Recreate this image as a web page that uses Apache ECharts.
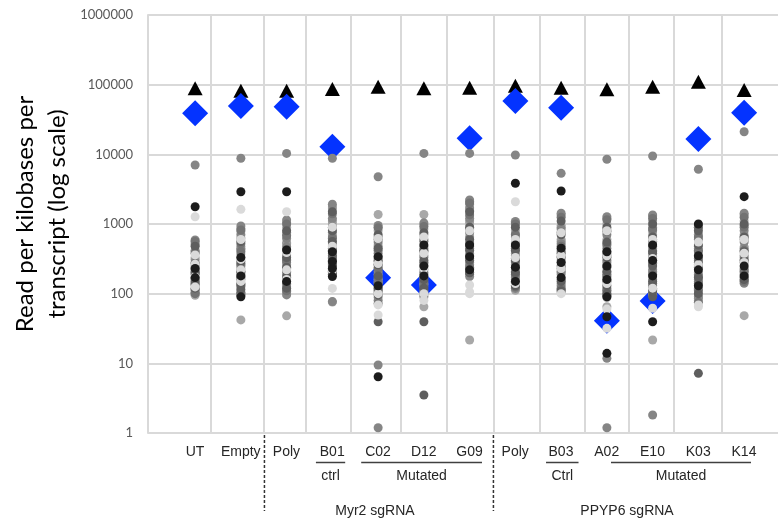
<!DOCTYPE html>
<html><head><meta charset="utf-8">
<script src="https://cdn.jsdelivr.net/npm/echarts@6/dist/echarts.min.js"></script>
<style>html,body{margin:0;padding:0;background:#fff}#c{width:779px;height:522px}</style>
</head><body><div id="c"></div>
<script>
const categories = ['UT','Empty','Poly','B01','C02','D12','G09','Poly','B03','A02','E10','K03','K14'];
const yTicks = [1,10,100,1000,10000,100000,1000000];
const yTitle = 'Read per kilobases per\ntranscript (log scale)';
const triangleValues = [88700,81900,82000,86600,93600,88700,90500,96600,90500,85600,93600,110000,83800];
const diamondValues  = [38800,49400,48300,12850,169,133,17000,58200,46700,40.9,78.5,16600,39600];

const dotsBlack = [[0,[1770,230,170]],[1,[2900,90,330,180]],[2,[2900,424,150]],[3,[176,400,230,290]],[4,[340,6.43,130]],[5,[500,250,180]],[6,[340,500,220]],[7,[3840,500,240,150]],[8,[2980,450,280,170]],[9,[90,46.7,13.9,400,250,160]],[10,[39.6,500,300,180]],[11,[1000,350,220,130]],[12,[2470,250,180]]];
const dotsDark = [[0,[480,200,150,120]],[1,[560,290,210,140,115]],[2,[800,330,240,180,120]],[3,[1500,800,560,350,250,200]],[4,[700,450,260,180,110,39.6,96]],[5,[750,420,300,160,120,39.6,3.51]],[6,[1500,900,600,420,300,200]],[7,[900,420,300,200,130]],[8,[1100,700,380,250,150,110]],[9,[900,550,330,210,130,100]],[10,[90,1000,650,400,250,150,110]],[11,[800,500,280,170,100,7.19]],[12,[1000,650,400,300,160]]];
const dotsMidDark = [[0,[560,380,270,220,165,135,115,100]],[1,[820,520,400,270,200,170,130,105,95]],[2,[1000,680,430,300,230,170,140,110]],[3,[1400,900,620,420,300,260,210,185]],[4,[880,600,420,300,230,170,140,118,72]],[5,[920,560,400,280,200,150,128,110]],[6,[2000,1350,850,520,350,240,200]],[7,[1000,700,450,320,240,190,145,125]],[8,[1250,760,480,340,230,160,120]],[9,[1150,780,500,350,240,180,150,110,96]],[10,[1200,850,560,380,270,190,140,120,100]],[11,[900,650,420,320,240,180,140,110,75]],[12,[1250,900,600,420,280,210,170,150]]];
const dotsMid = [[0,[7030,590,400,280,190,140,105]],[1,[8770,935,700,430,250,160,100]],[2,[10300,1140,620,470,280,200,96]],[3,[8770,1920,1200,650,450,320,190,77]],[4,[4770,950,550,380,290,210,150,80,9.46,1.19]],[5,[10300,1040,600,350,220,140,90]],[6,[10300,2210,1700,1200,750,450,260,176]],[7,[9800,1085,650,480,350,260,180,119]],[8,[5340,1430,850,520,330,210,130]],[9,[8490,1270,700,450,300,190,120,11.8,1.19]],[10,[9460,1350,800,480,340,220,130,1.81]],[11,[6100,900,600,400,250,150,90]],[12,[21100,1430,800,550,350,220,141]]];
const dotsMidLight = [[0,[500,420,310,240,200,170,140,100]],[1,[860,630,450,330,260,180,135,98]],[2,[1050,760,520,390,310,210,150,125,102]],[3,[1750,1100,760,540,400,330,280,220]],[4,[900,650,470,340,260,190,145,125,105]],[5,[980,700,450,330,250,170,135,96]],[6,[2100,1550,1100,650,480,320,230,190]],[7,[1050,720,520,380,290,210,170,130]],[8,[1350,900,560,400,280,200,140,115]],[9,[1200,820,520,400,280,200,155,110,95]],[10,[1300,900,600,420,300,210,160,115,98]],[11,[950,700,480,340,260,200,160,115,85]],[12,[1350,950,650,450,310,230,190,155]]];
const dotsLight = [[0,[520,330,250,210,160,130,110,95]],[1,[780,480,370,230,190,125,42]],[2,[900,720,540,360,260,135,108,48]],[3,[1650,1000,700,500,380,270,76]],[4,[1370,800,500,320,240,160,120,88]],[5,[1370,850,480,270,190,105,65]],[6,[1900,1000,550,380,280,21.6]],[7,[800,550,400,280,220,160,112]],[8,[950,600,420,300,190,106]],[9,[1000,600,380,260,170,88,65]],[10,[1100,700,450,280,200,95,21.6]],[11,[700,450,300,190,120,80]],[12,[1100,700,470,330,200,48.3]]];
const dotsPale = [[0,[1270,360,265,175,125]],[1,[1625,600,310,220,150]],[2,[1500,390,220,160]],[3,[900,480,215,119]],[4,[620,270,100,69,49.4]],[5,[650,380,230,100,80]],[6,[800,133,106,100]],[7,[2090,600,330,140]],[8,[750,350,230,100]],[9,[800,350,140,60,31.8]],[10,[600,320,120,61.8]],[11,[550,260,68.8,65]],[12,[600,380,280]]];

// vertical gridlines (category index units) and annotations
const vGridAt = [0.343,1.515,2.42,3.40,4.496,5.50,6.52,7.53,8.51,9.47,10.47,11.51];
const bracketRanges = [[2.64,3.28],[3.63,6.27],[7.67,8.38],[9.09,12.15]];
const bracketLabels = ['ctrl','Mutated','Ctrl','Mutated'];
const sectionLabels = ['Myr2 sgRNA','PPYP6 sgRNA'];
const sectionCenters = [3.93,9.44];
const dividerAt = [1.515,6.52];

const X_MIN = -1.03, X_MAX = 12.74;
function flat(groups){const o=[];groups.forEach(g=>g[1].forEach(v=>o.push([g[0],v])));return o;}

const chart = echarts.init(document.getElementById('c'));
const gridColor = '#d9d9d9';
const dotSeries = (name, arr, color) => ({
  name, type:'scatter', xAxisIndex:0, yAxisIndex:0, data: flat(arr),
  symbol:'circle', symbolSize:9, itemStyle:{color, opacity:1}, z:5, silent:true
});
chart.setOption({
  animation:false,
  grid:[
    {left:148, right:1, top:15, bottom:89},
    {left:172.1, width:594.75, top:15, bottom:89}
  ],
  xAxis:[
    {type:'value', gridIndex:0, min:X_MIN, max:X_MAX, show:false, splitLine:{show:false}},
    {type:'category', gridIndex:1, data:categories, boundaryGap:true,
     axisLine:{show:false}, axisTick:{show:false}, splitLine:{show:false},
     axisLabel:{interval:0, margin:12, fontSize:14, color:'#262626', fontFamily:'Liberation Sans'}}
  ],
  yAxis:[
    {type:'log', logBase:10, gridIndex:0, min:1, max:1000000,
     axisLine:{show:true, onZero:false, lineStyle:{color:gridColor, width:2}}, axisTick:{show:false},
     splitLine:{show:true, lineStyle:{color:gridColor, width:2}},
     axisLabel:{margin:15, fontSize:13, color:'#595959', fontFamily:'Lato', formatter:v=>String(Math.round(v))}},
    {type:'log', gridIndex:1, min:1, max:1000000, show:false, splitLine:{show:false}}
  ],
  series:[
    {type:'scatter', xAxisIndex:0, yAxisIndex:0, data:[], z:1, silent:true,
     markLine:{silent:true, symbol:'none', label:{show:false}, animation:false,
       lineStyle:{color:gridColor, width:2, type:'solid'},
       data: vGridAt.map(v=>({xAxis:v}))}},
    {type:'scatter', xAxisIndex:0, yAxisIndex:0, symbol:'triangle', symbolSize:[15,14],
     itemStyle:{color:'#000', opacity:1}, z:3, silent:true,
     data: triangleValues.map((v,i)=>[i,v])},
    {type:'scatter', xAxisIndex:0, yAxisIndex:0, symbol:'diamond', symbolSize:[26,26],
     itemStyle:{color:'#0433ff', opacity:1}, z:4, silent:true,
     data: diamondValues.map((v,i)=>[i,v])},
    dotSeries('light', dotsLight, '#a8a8a8'),
    dotSeries('midLight', dotsMidLight, '#999999'),
    dotSeries('mid', dotsMid, '#858585'),
    dotSeries('midDark', dotsMidDark, '#737373'),
    dotSeries('dark', dotsDark, '#5e5e5e'),
    dotSeries('pale', dotsPale, '#dadada'),
    dotSeries('black', dotsBlack, '#1c1c1c')
  ]
});

const px = v => chart.convertToPixel({xAxisIndex:0}, v);
const g = [];
const txt = {fontSize:14, fontFamily:'Liberation Sans', fill:'#262626', textAlign:'center', textVerticalAlign:'middle'};
bracketRanges.forEach((r,i)=>{
  const a = px(r[0]), b = px(r[1]);
  g.push({type:'line', shape:{x1:a,y1:462.5,x2:b,y2:462.5}, style:{stroke:'#404040', lineWidth:1.5}});
  g.push({type:'text', x:(a+b)/2, y:476.5, style:Object.assign({text:bracketLabels[i]}, txt)});
});
sectionLabels.forEach((t,i)=>{
  g.push({type:'text', x:px(sectionCenters[i]), y:511.5, style:Object.assign({text:t}, txt)});
});
dividerAt.forEach(v=>{
  const x = px(v);
  g.push({type:'line', shape:{x1:x,y1:435,x2:x,y2:511}, style:{stroke:'#333', lineWidth:1.5, lineDash:[3,2]}});
});
g.push({type:'text', x:41, y:214, rotation:Math.PI/2,
  style:{text:yTitle, fontSize:24, fontFamily:'Lato', fill:'#000', textAlign:'center', textVerticalAlign:'middle', lineHeight:32}});
chart.setOption({graphic:g});
</script></body></html>
